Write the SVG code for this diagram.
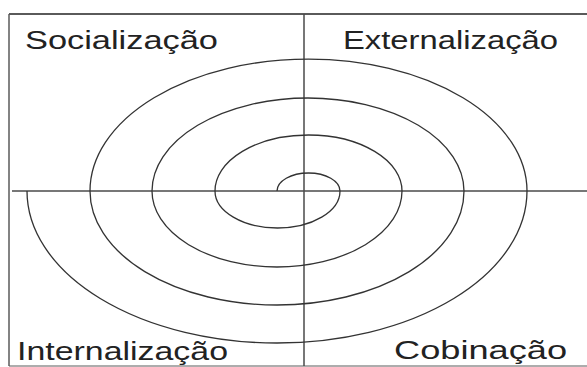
<svg xmlns="http://www.w3.org/2000/svg" width="587" height="367" viewBox="0 0 587 367">
  <style>
    .frame { stroke: #5a5a5a; fill: none; }
    .axis { stroke: #4a4a4a; stroke-width: 1.5; fill: none; }
    .spiral { stroke: #333; stroke-width: 1.3; fill: none; }
    .label { font-family: "Liberation Sans", Arial, sans-serif; font-size: 26px; fill: #222; }
  </style>
  <rect width="587" height="367" fill="#fff"/>
  <g id="frame">
    <line class="frame" x1="9" y1="14" x2="587" y2="14" stroke-width="2"/>
    <line class="frame" x1="9" y1="14" x2="9" y2="366" stroke-width="1.5" stroke="#8a8a8a"/>
    <line class="frame" x1="9" y1="366" x2="587" y2="366" stroke-width="1" stroke="#bbb"/>
  </g>
  <g id="axes">
    <line class="axis" x1="12" y1="191" x2="587" y2="191"/>
    <line class="axis" x1="304" y1="14" x2="304" y2="366" stroke-width="1.2"/>
  </g>
  <g id="spiral">
    <path class="spiral" d="M 277 191 A 31.5 18 0 0 1 340 191 A 62.5 37 0 0 1 215 191 A 93.5 56 0 0 1 402 191 A 125 76 0 0 1 152 191 A 156 93 0 0 1 464 191 A 187 114 0 0 1 90 191 A 218.5 132 0 0 1 527 191 A 250 152 0 0 1 27 191"/>
  </g>
  <g id="socializacao">
    <text class="label" x="25" y="49" textLength="193" lengthAdjust="spacingAndGlyphs">Socialização</text>
  </g>
  <g id="externalizacao">
    <text class="label" x="343" y="49" textLength="215" lengthAdjust="spacingAndGlyphs">Externalização</text>
  </g>
  <g id="internalizacao">
    <text class="label" x="17" y="360" font-size="24" textLength="211" lengthAdjust="spacingAndGlyphs">Internalização</text>
  </g>
  <g id="cobinacao">
    <text class="label" x="394" y="359" font-size="25" textLength="173" lengthAdjust="spacingAndGlyphs">Cobinação</text>
  </g>
</svg>
